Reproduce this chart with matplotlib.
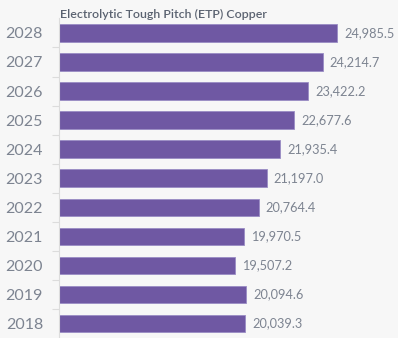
import matplotlib.pyplot as plt

# ETP copper values by year
years = ['2018', '2019', '2020', '2021', '2022', '2023', '2024', '2025', '2026', '2027', '2028']
values = [20039.3, 20094.6, 19507.2, 19970.5, 20764.4, 21197.0, 21935.4, 22677.6, 23422.2, 24214.7, 24985.5]

bg = '#f7f7f7'
bar_color = '#6f58a3'
text_gray = '#7d8491'

plt.rcParams['font.family'] = ['Lato', 'DejaVu Sans']

fig = plt.figure(figsize=(3.98, 3.38), dpi=100, facecolor=bg)
ax = fig.add_axes([59 / 398, 0, (393 - 59) / 398, 1 - 18.4 / 338])
ax.set_facecolor(bg)

pos = list(range(len(years)))
ax.barh(pos, values, height=0.6, left=0, color=bar_color, edgecolor='#9a8cc4', linewidth=0.6)
ax.set_xlim(10000, 28000)
ax.set_ylim(-0.5, len(years) - 0.5)

for p, v in zip(pos, values):
    ax.text(v + 380, p, f'{v:,.1f}', va='center', ha='left', fontsize=9.2, color=text_gray)

ax.set_yticks(pos)
ax.set_yticklabels(years, fontsize=11.5, color=text_gray)
ax.tick_params(axis='y', length=0, pad=11.5)
ax.set_yticks([p + 0.5 for p in pos[:-1]], minor=True)
ax.tick_params(axis='y', which='minor', length=5, color='#dcdcdc', width=0.8)
ax.set_xticks([])

for s in ['top', 'right', 'bottom']:
    ax.spines[s].set_visible(False)
ax.spines['left'].set_color('#dcdcdc')
ax.spines['left'].set_linewidth(0.8)

fig.text(60 / 398, 1 - 14 / 338, 'Electrolytic Tough Pitch (ETP) Copper', fontsize=8.9,
         fontweight='semibold', color='#5a6270', va='center', ha='left')

fig.savefig('out.png', dpi=100, facecolor=bg)
